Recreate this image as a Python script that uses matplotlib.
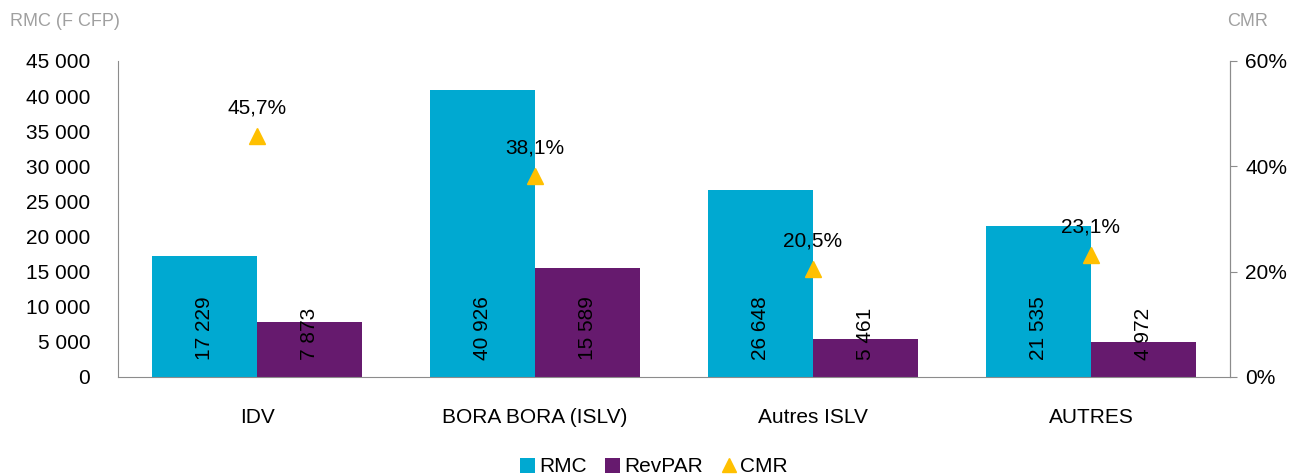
import matplotlib
matplotlib.use("Agg")
import matplotlib.pyplot as plt
import numpy as np

categories = ["IDV", "BORA BORA (ISLV)", "Autres ISLV", "AUTRES"]
rmc = [17229, 40926, 26648, 21535]
revpar = [7873, 15589, 5461, 4972]
cmr = [45.7, 38.1, 20.5, 23.1]

c_rmc = "#00A9D1"
c_rev = "#661A6E"
c_cmr = "#FFC000"
gray = "#8C8C8C"

plt.rcParams['font.family'] = ['Liberation Sans', 'DejaVu Sans']
FS = 15

fig = plt.figure(figsize=(12.93, 4.74), dpi=100)
ax = fig.add_axes([118/1293, 1-377/474, (1230-118)/1293, (377-61)/474])
ax2 = ax.twinx()

x = np.arange(len(categories))
w = 0.378
b1 = ax.bar(x - w/2, rmc, w, color=c_rmc, label="RMC", zorder=2)
b2 = ax.bar(x + w/2, revpar, w, color=c_rev, label="RevPAR", zorder=2)

def fmt(v):
    return f"{v:,}".replace(",", " ")

for bars, vals in ((b1, rmc), (b2, revpar)):
    for r, v in zip(bars, vals):
        ax.annotate(fmt(v), (r.get_x() + r.get_width()/2, 0), xytext=(0, 17),
                    textcoords="offset pixels", rotation=90, ha="center", va="bottom",
                    fontsize=FS, color="black", zorder=5)

ax.set_xlim(-0.5, len(categories) - 0.5)
ax.set_ylim(0, 45000)
ax.set_yticks(np.arange(0, 45001, 5000))
ax.set_yticklabels([fmt(v) for v in range(0, 45001, 5000)], fontsize=FS)
ax.set_xticks(x)
ax.set_xticklabels(categories, fontsize=FS)
ax.tick_params(axis='x', length=0, pad=22)
ax.tick_params(axis='y', length=0, pad=20)

ax2.plot(x, cmr, linestyle='none', marker='^', markersize=12, color=c_cmr,
         label="CMR", zorder=4)
for xi, v in zip(x, cmr):
    ax2.annotate(f"{v:.1f}%".replace(".", ","), (xi, v), xytext=(0, 19),
                 textcoords="offset pixels", ha="center", va="bottom", fontsize=FS)
ax2.set_ylim(0, 60)
ax2.set_yticks([0, 20, 40, 60])
ax2.set_yticklabels(["0%", "20%", "40%", "60%"], fontsize=FS)
ax2.tick_params(axis='y', length=5, color=gray, pad=6)

for a in (ax, ax2):
    a.spines['top'].set_visible(False)
    for s in ('left', 'right', 'bottom'):
        a.spines[s].set_color(gray)
ax2.spines['left'].set_visible(False)
ax2.spines['bottom'].set_visible(False)

fig.text(10/1293, 1-22/474, "RMC (F CFP)", color="#A0A0A0", fontsize=13, va="center", ha="left")
fig.text(1248/1293, 1-22/474, "CMR", color="#A0A0A0", fontsize=13, va="center", ha="center")

h1, l1 = ax.get_legend_handles_labels()
h2, l2 = ax2.get_legend_handles_labels()
fig.legend(h1 + h2, l1 + l2, loc="center", bbox_to_anchor=(654/1293, 1-467/474),
           ncol=3, frameon=False, fontsize=FS, handlelength=0.7, handletextpad=0.2,
           columnspacing=0.9, markerscale=0.8)

fig.savefig("out.png", dpi=100)
